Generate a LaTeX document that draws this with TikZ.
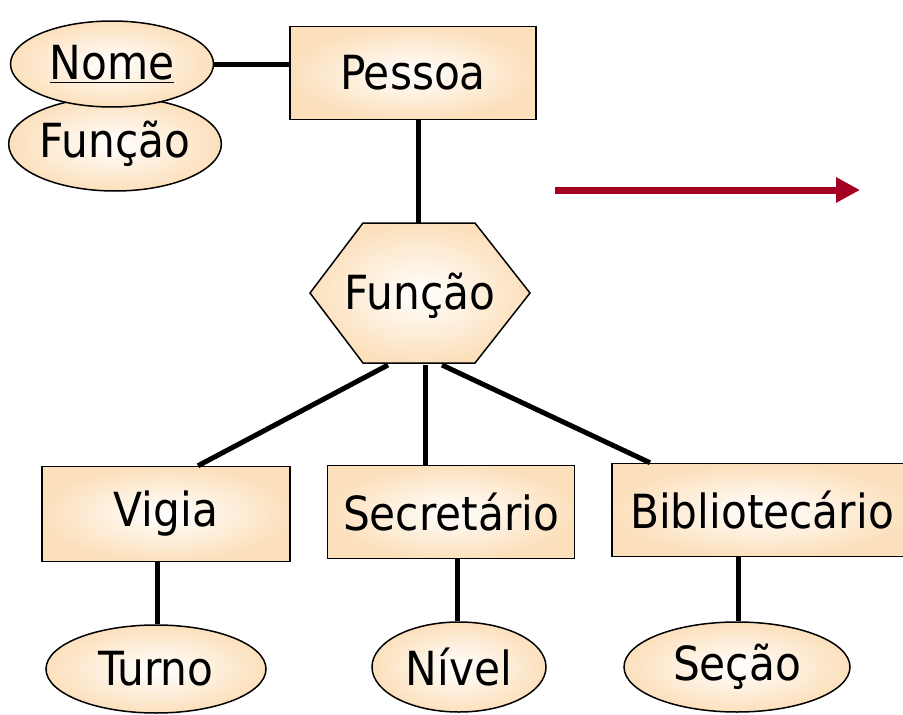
\documentclass[tikz,border=0pt]{standalone}
\usepackage{fontspec}
\setmainfont{DejaVu Sans Condensed}
\usetikzlibrary{shapes.geometric,arrows.meta}
\definecolor{peach}{RGB}{252,224,188}
\definecolor{arrowred}{RGB}{165,0,33}

\begin{document}
\begin{tikzpicture}[x=1pt,y=-1pt,
  every node/.style={font=\fontsize{47}{56}\selectfont},
  fillgrad/.style={shading=radial,inner color=white,outer color=peach},
  entity/.style={draw,line width=1.5pt,fillgrad,rectangle,inner sep=0pt},
  attrib/.style={draw,line width=1.5pt,fillgrad,ellipse,inner sep=0pt},
  link/.style={line width=5pt}]
\useasboundingbox (0,0) rectangle (903,715);
%% atributos de Pessoa
\node[attrib,minimum width=205,minimum height=94] (funcaoattr) at (115,144) {Função};
\node[attrib,minimum width=203,minimum height=86] (nome) at (112,64) {\underline{Nome}};
%% entidade Pessoa
\node[entity,minimum width=246,minimum height=93] (pessoa) at (413,73) {Pessoa};
\draw[link] (nome.east) -- (nome.east -| pessoa.west);
%% hexagono Função
\draw[line width=1.5pt,fillgrad] (310,293) -- (363,223) -- (475,223) -- (530,293)
  -- (475,363) -- (363,363) -- cycle;
\node (funcao) at (420,296) {Função};
\coordinate (htop) at (418,223);
\coordinate (hb1) at (388,365);
\coordinate (hb2) at (425,365);
\coordinate (hb3) at (442,365);
\draw[link] (htop) -- (htop |- pessoa.south);
%% subclasses
\node[entity,minimum width=248,minimum height=95] (vigia) at (166,514) {Vigia};
\node[entity,minimum width=247,minimum height=93] (secretario) at (451,512) {Secretário};
\node[entity,minimum width=300,minimum height=93] (bibliotecario) at (762,510) {Bibliotecário};
\draw[link] (hb1) -- ([xshift=32]vigia.north);
\draw[link] (hb2) -- (hb2 |- secretario.north);
\draw[link] (hb3) -- ([xshift=-112]bibliotecario.north);
%% atributos das subclasses
\node[attrib,minimum width=220,minimum height=88] (turno) at (156,669) {Turno};
\node[attrib,minimum width=174,minimum height=90] (nivel) at (459,667) {Nível};
\node[attrib,minimum width=226,minimum height=90] (secao) at (737,667) {Seção};
\draw[link] (turno.north -| 157,0) -- (157,0 |- vigia.south);
\draw[link] (nivel.north -| 457,0) -- (457,0 |- secretario.south);
\draw[link] (secao.north -| 738,0) -- (738,0 |- bibliotecario.south);
%% seta
\coordinate (s1) at (555,190);
\coordinate (s2) at (860,190);
\draw[line width=7pt,arrowred,-{Triangle[length=24pt,width=24pt]}] (s1) -- (s2);
\end{tikzpicture}
\end{document}
